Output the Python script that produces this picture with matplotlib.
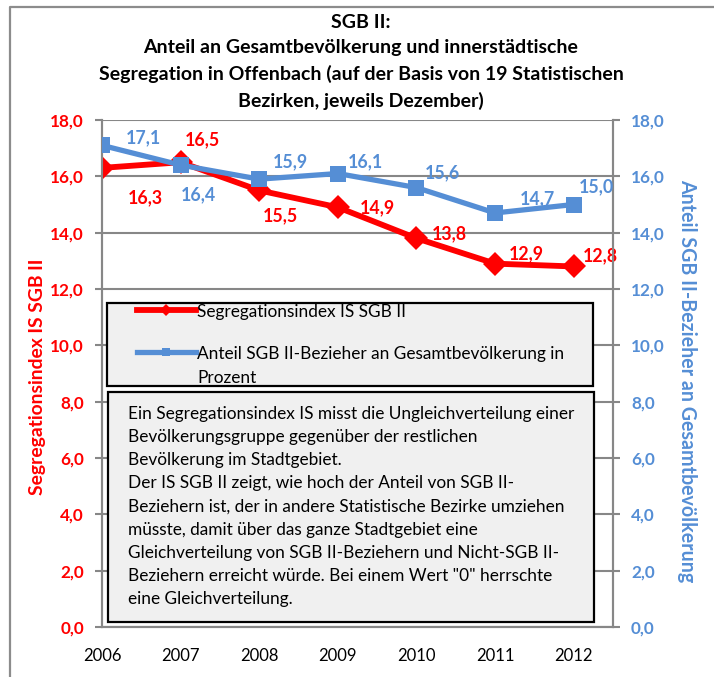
import matplotlib.pyplot as plt
from matplotlib.patches import Rectangle
from matplotlib.lines import Line2D
from matplotlib.ticker import FuncFormatter, MultipleLocator

years = ['2006', '2007', '2008', '2009', '2010', '2011', '2012']
seg_index = [16.3, 16.5, 15.5, 14.9, 13.8, 12.9, 12.8]
share = [17.1, 16.4, 15.9, 16.1, 15.6, 14.7, 15.0]

seg_label = 'Segregationsindex IS SGB II'
share_label = 'Anteil SGB II-Bezieher an Gesamtbevölkerung in\nProzent'
title = ('SGB II:\nAnteil an Gesamtbevölkerung und innerstädtische\n'
         'Segregation in Offenbach (auf der Basis von 19 Statistischen\n'
         'Bezirken, jeweils Dezember)')
note = ('Ein Segregationsindex IS misst die Ungleichverteilung einer\n'
        'Bevölkerungsgruppe gegenüber der restlichen\n'
        'Bevölkerung im Stadtgebiet.\n'
        'Der IS SGB II zeigt, wie hoch der Anteil von SGB II-\n'
        'Beziehern ist, der in andere Statistische Bezirke umziehen\n'
        'müsste, damit über das ganze Stadtgebiet eine\n'
        'Gleichverteilung von SGB II-Beziehern und Nicht-SGB II-\n'
        'Beziehern erreicht würde. Bei einem Wert "0" herrschte\n'
        'eine Gleichverteilung.')

# label offsets in pixels (dx right, dy down)
seg_offsets = [(43, 30), (22, -23), (21, 25), (40, 0), (33, -5), (31, -10), (27, -11)]
share_offsets = [(41, -8), (18, 30), (31, -17), (28, -12), (26, -15), (42, -14), (23, -18)]

RED = '#FF0000'
BLUE = '#558ED5'
GRID = '#878787'

plt.rcParams['font.family'] = ['Lato', 'DejaVu Sans']

W, H = 714, 677
fig = plt.figure(figsize=(W / 100, H / 100), dpi=100)


def fx(px):
    return px / W


def fy(py):
    return 1 - py / H


# outer chart border (cropped on right and bottom)
fig.add_artist(Line2D([fx(10), fx(10), 1], [0, fy(7), fy(7)], color='#8c8c8c', lw=1.6))

ax = fig.add_axes([fx(102), fy(627), fx(613) - fx(102), fy(120) - fy(627)])
ax2 = ax.twinx()

x = list(range(len(years)))
ax.plot(x, seg_index, color=RED, lw=4.2, marker='D', ms=12, mew=0, zorder=3,
        label=seg_label)
ax2.plot(x, share, color=BLUE, lw=3.8, marker='s', ms=12, mew=0, zorder=3,
         label=share_label)

comma = FuncFormatter(lambda v, p: f'{v:.1f}'.replace('.', ','))
for a, col in ((ax, RED), (ax2, BLUE)):
    a.set_ylim(0, 18)
    a.set_xlim(0, 6.5)
    a.yaxis.set_major_locator(MultipleLocator(2))
    a.yaxis.set_major_formatter(comma)
    a.tick_params(axis='y', colors=GRID, labelcolor=col, length=5, width=1.5,
                  pad=8, labelsize=12.3)
    for lab in a.get_yticklabels():
        lab.set_fontweight('bold')
    for s in a.spines.values():
        s.set_color(GRID)
        s.set_linewidth(1.5)
    a.spines['top'].set_visible(False)

ax.set_xticks(x)
ax.set_xticklabels(years)
ax.tick_params(axis='x', length=0, pad=15, labelsize=12, labelcolor='black')
ax.grid(axis='y', color=GRID, lw=1.5)
ax.set_axisbelow(True)
ax.patch.set_visible(False)

for xi, v, (dx, dy) in zip(x, seg_index, seg_offsets):
    ax.annotate(f'{v:.1f}'.replace('.', ','), (xi, v), xytext=(dx, -dy),
                textcoords='offset pixels', ha='center', va='center',
                color=RED, fontsize=12.8, fontweight='bold')
for xi, v, (dx, dy) in zip(x, share, share_offsets):
    ax2.annotate(f'{v:.1f}'.replace('.', ','), (xi, v), xytext=(dx, -dy),
                 textcoords='offset pixels', ha='center', va='center',
                 color=BLUE, fontsize=12.8, fontweight='bold')

ax.set_ylabel('Segregationsindex IS SGB II', color=RED, fontsize=13.9,
              fontweight='bold', va='center')
ax.yaxis.set_label_coords((37 - 102) / 511, (627 - 377) / 507)
ax2.set_ylabel('Anteil SGB II-Bezieher an Gesamtbevölkerung', color=BLUE,
               fontsize=14.1, fontweight='bold', rotation=270, va='center')
ax2.yaxis.set_label_coords((687 - 102) / 511, (627 - 381) / 507)

fig.text(fx(361), fy(14), title, ha='center', va='top', fontsize=14,
         fontweight='bold', linespacing=1.58)

# legend box
fig.add_artist(Rectangle((fx(107), fy(386)), fx(593) - fx(107), fy(303) - fy(386),
                         facecolor='#F0F0F0', edgecolor='black', lw=1.6, zorder=5))
h1, _ = ax.get_legend_handles_labels()
h2, _ = ax2.get_legend_handles_labels()
leg = fig.legend(handles=h1 + h2, loc='upper left',
                 bbox_to_anchor=(fx(137), fy(304)), frameon=False,
                 fontsize=12.4, handlelength=3.4, handletextpad=0.1,
                 labelspacing=1.5, borderpad=0, borderaxespad=0,
                 markerscale=0.5)
leg.get_texts()[1].set_linespacing(1.65)
for column in leg._legend_handle_box.get_children():
    for row in column.get_children():
        row.align = 'top'
leg.set_zorder(6)

# explanation box
fig.add_artist(Rectangle((fx(108), fy(622)), fx(594) - fx(108), fy(392) - fy(622),
                         facecolor='#F0F0F0', edgecolor='black', lw=1.6, zorder=5))
fig.text(fx(128), fy(406), note, ha='left', va='top', fontsize=12.4,
         linespacing=1.55, zorder=6)

fig.savefig('out.png', dpi=100)
